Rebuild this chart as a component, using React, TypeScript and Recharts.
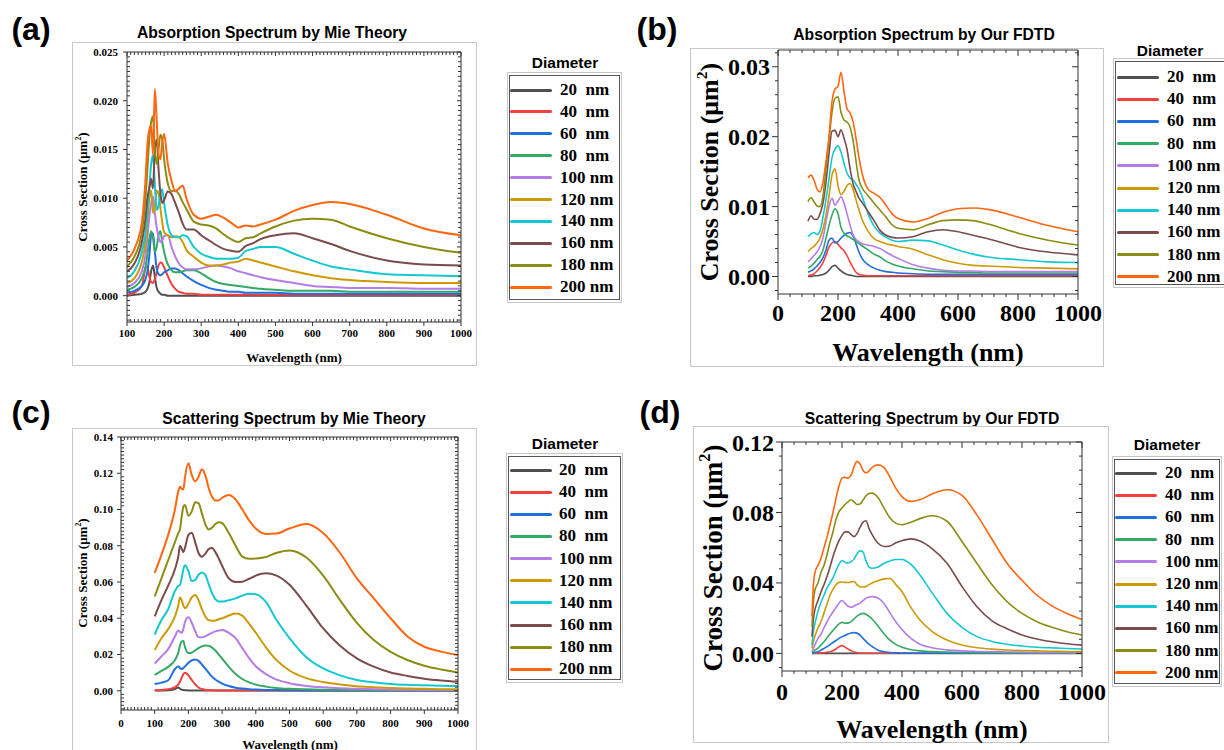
import React from "react";
import { LineChart, Line, XAxis, YAxis } from "recharts";

const diameters = [20, 40, 60, 80, 100, 120, 140, 160, 180, 200];
const colors = ["#505050", "#f04040", "#1f6fe0", "#34a864", "#b47ce6", "#cc9a06", "#14c8d2", "#7b4a4a", "#8c8c14", "#ff6610"];

// (a) absorption, Mie theory
const absMieNm = [100, 120, 140, 150, 155, 160, 165, 170, 175, 180, 185, 190, 195, 200, 210, 220, 230, 240, 250, 260, 280, 300, 320, 340, 360, 380, 400, 420, 440, 460, 500, 550, 600, 650, 700, 800, 900, 1000];
const absMie20 = [0, 0.0001, 0.0002, 0.0004, 0.0007, 0.0013, 0.0025, 0.0031, 0.002, 0.0008, 0.0004, 0.0002, 0.0001, 0.0001, 0, 0, 0, 0, 0, 0, 0, 0, 0, 0, 0, 0, 0, 0, 0, 0, 0, 0, 0, 0, 0, 0, 0, 0];
const absMie40 = [0.0001, 0.0003, 0.001, 0.0028, 0.003, 0.002, 0.0014, 0.0013, 0.0017, 0.0024, 0.0031, 0.0034, 0.0033, 0.0029, 0.002, 0.0012, 0.0007, 0.0004, 0.0003, 0.0002, 0.0002, 0.0001, 0.0001, 0.0001, 0.0001, 0.0001, 0.0001, 0.0001, 0.0001, 0.0001, 0.0001, 0.0001, 0.0001, 0.0001, 0.0001, 0.0001, 0.0001, 0.0001];
const absMie60 = [0.0003, 0.0005, 0.001, 0.0017, 0.0025, 0.004, 0.0062, 0.0064, 0.0045, 0.0028, 0.0022, 0.0021, 0.0022, 0.0024, 0.0026, 0.0028, 0.0028, 0.0026, 0.0023, 0.002, 0.0015, 0.0011, 0.0008, 0.0006, 0.0005, 0.0004, 0.0004, 0.0003, 0.0003, 0.0003, 0.0003, 0.0002, 0.0002, 0.0002, 0.0002, 0.0002, 0.0002, 0.0002];
const absMie80 = [0.0006, 0.0009, 0.0018, 0.003, 0.0042, 0.0058, 0.0066, 0.006, 0.0045, 0.005, 0.0062, 0.0066, 0.0055, 0.0045, 0.0032, 0.0026, 0.0024, 0.0024, 0.0025, 0.0026, 0.0026, 0.0023, 0.0018, 0.0014, 0.0012, 0.0011, 0.001, 0.0009, 0.0008, 0.0007, 0.0006, 0.0005, 0.0005, 0.0005, 0.0004, 0.0004, 0.0004, 0.0004];
const absMie100 = [0.0009, 0.0013, 0.0025, 0.0042, 0.006, 0.008, 0.0095, 0.0102, 0.0085, 0.007, 0.006, 0.0055, 0.0057, 0.0061, 0.0062, 0.005, 0.004, 0.0033, 0.0029, 0.0027, 0.0027, 0.0028, 0.003, 0.0031, 0.003, 0.0028, 0.0025, 0.0023, 0.0021, 0.0019, 0.0016, 0.0013, 0.001, 0.0009, 0.0008, 0.0008, 0.0007, 0.0007];
const absMie120 = [0.0013, 0.0018, 0.0035, 0.0055, 0.0075, 0.01, 0.0108, 0.0085, 0.009, 0.0108, 0.0105, 0.009, 0.0075, 0.0065, 0.0062, 0.006, 0.0061, 0.006, 0.0055, 0.0047, 0.004, 0.0034, 0.0031, 0.0031, 0.0032, 0.0034, 0.0035, 0.0038, 0.0036, 0.0034, 0.003, 0.0025, 0.0021, 0.0018, 0.0016, 0.0014, 0.0013, 0.0013];
const absMie140 = [0.0018, 0.0025, 0.0045, 0.0065, 0.0085, 0.011, 0.0135, 0.0144, 0.0115, 0.0088, 0.0092, 0.0105, 0.0109, 0.0095, 0.0072, 0.0062, 0.006, 0.006, 0.0062, 0.0061, 0.005, 0.0043, 0.004, 0.0038, 0.0038, 0.0038, 0.0039, 0.0046, 0.0048, 0.005, 0.005, 0.0043, 0.0036, 0.003, 0.0027, 0.0022, 0.0021, 0.002];
const absMie160 = [0.0025, 0.0033, 0.0055, 0.008, 0.01, 0.011, 0.012, 0.011, 0.015, 0.016, 0.013, 0.0105, 0.0095, 0.0098, 0.0107, 0.0104, 0.0095, 0.0085, 0.0074, 0.0068, 0.0068, 0.0062, 0.0057, 0.0052, 0.0048, 0.0046, 0.0045, 0.0051, 0.0054, 0.0058, 0.0062, 0.0064, 0.0059, 0.0053, 0.0046, 0.0036, 0.0032, 0.0031];
const absMie180 = [0.003, 0.004, 0.0065, 0.01, 0.013, 0.016, 0.0178, 0.0184, 0.015, 0.0135, 0.015, 0.0165, 0.016, 0.014, 0.0115, 0.0107, 0.0108, 0.0104, 0.0096, 0.0089, 0.0076, 0.0073, 0.0072, 0.0069, 0.0063, 0.0058, 0.0055, 0.0059, 0.006, 0.0064, 0.0071, 0.0077, 0.0079, 0.0078, 0.0071, 0.0059, 0.005, 0.0044];
const absMie200 = [0.0036, 0.0048, 0.0075, 0.012, 0.0155, 0.017, 0.0174, 0.0145, 0.0212, 0.018, 0.0145, 0.014, 0.0158, 0.0166, 0.0135, 0.0118, 0.0107, 0.011, 0.0113, 0.01, 0.0083, 0.0079, 0.0081, 0.0083, 0.008, 0.0075, 0.007, 0.0072, 0.0071, 0.0073, 0.0078, 0.0087, 0.0093, 0.0096, 0.0094, 0.0083, 0.0069, 0.0062];
const absMieYTicks = [0, 0.005, 0.01, 0.015, 0.02, 0.025];
const mieXTicks = [100, 200, 300, 400, 500, 600, 700, 800, 900, 1000];

// (b) absorption, FDTD
const absFdtdNm = [100, 110, 120, 130, 140, 150, 160, 170, 180, 190, 200, 210, 220, 230, 240, 250, 260, 270, 280, 300, 320, 340, 360, 380, 400, 450, 500, 550, 600, 650, 700, 800, 900, 1000];
const absFdtd20 = [0, 0, 0.0001, 0.0001, 0.0002, 0.0003, 0.0005, 0.0009, 0.0014, 0.0016, 0.0012, 0.0008, 0.0005, 0.0003, 0.0002, 0.0001, 0, 0, 0, 0, 0, 0, 0, 0, 0, 0, 0, 0, 0, 0, 0, 0, 0, 0];
const absFdtd40 = [0.0001, 0.0002, 0.0004, 0.0008, 0.0013, 0.002, 0.003, 0.0042, 0.0048, 0.005, 0.0046, 0.0041, 0.0037, 0.003, 0.0021, 0.0013, 0.0006, 0.0003, 0.0002, 0.0001, 0.0001, 0.0001, 0.0001, 0.0001, 0.0001, 0.0001, 0.0001, 0.0001, 0.0001, 0.0001, 0.0001, 0.0001, 0.0001, 0.0001];
const absFdtd60 = [0.0006, 0.0008, 0.0011, 0.0015, 0.002, 0.0027, 0.0038, 0.0052, 0.0055, 0.0048, 0.005, 0.0055, 0.0059, 0.0062, 0.0063, 0.0058, 0.0047, 0.0035, 0.0026, 0.0017, 0.0012, 0.0009, 0.0007, 0.0006, 0.0005, 0.0004, 0.0003, 0.0003, 0.0003, 0.0003, 0.0003, 0.0003, 0.0003, 0.0003];
const absFdtd80 = [0.0012, 0.0015, 0.0019, 0.0024, 0.0029, 0.0038, 0.0055, 0.0073, 0.0088, 0.0097, 0.009, 0.007, 0.0062, 0.0058, 0.0056, 0.0053, 0.005, 0.0047, 0.0044, 0.0038, 0.0032, 0.0028, 0.0022, 0.0018, 0.0015, 0.0011, 0.0008, 0.0007, 0.0006, 0.0006, 0.0005, 0.0005, 0.0005, 0.0005];
const absFdtd100 = [0.0021, 0.0025, 0.003, 0.0035, 0.0043, 0.0055, 0.0078, 0.01, 0.0112, 0.0102, 0.0108, 0.0114, 0.0105, 0.009, 0.0074, 0.006, 0.0053, 0.005, 0.0047, 0.0045, 0.0043, 0.004, 0.0035, 0.003, 0.0026, 0.0017, 0.0012, 0.0009, 0.0008, 0.0008, 0.0007, 0.0007, 0.0007, 0.0007];
const absFdtd120 = [0.0036, 0.004, 0.0043, 0.0048, 0.0055, 0.0068, 0.0088, 0.0115, 0.0145, 0.0154, 0.013, 0.0117, 0.0122, 0.013, 0.0133, 0.0125, 0.011, 0.0095, 0.0082, 0.0065, 0.0054, 0.005, 0.0047, 0.0045, 0.0043, 0.0039, 0.0031, 0.0024, 0.0019, 0.0016, 0.0015, 0.0013, 0.0012, 0.0011];
const absFdtd140 = [0.0057, 0.0061, 0.0063, 0.006, 0.0065, 0.0085, 0.011, 0.014, 0.017, 0.0182, 0.0187, 0.0178, 0.0162, 0.0148, 0.0141, 0.0138, 0.0132, 0.0125, 0.0115, 0.009, 0.0072, 0.0062, 0.0056, 0.0052, 0.005, 0.0052, 0.0051, 0.0045, 0.0038, 0.0032, 0.0028, 0.0024, 0.0021, 0.002];
const absFdtd160 = [0.0079, 0.0087, 0.0082, 0.0082, 0.009, 0.0105, 0.0135, 0.0175, 0.0208, 0.0209, 0.02, 0.021, 0.0198, 0.0182, 0.0155, 0.0133, 0.0122, 0.0112, 0.0106, 0.0093, 0.008, 0.0066, 0.0059, 0.0056, 0.0055, 0.0057, 0.0064, 0.0067, 0.0064, 0.0059, 0.0054, 0.0042, 0.0035, 0.0031];
const absFdtd180 = [0.0107, 0.0113, 0.0107, 0.0101, 0.01, 0.0115, 0.0155, 0.0195, 0.0235, 0.0255, 0.0257, 0.0235, 0.0224, 0.0221, 0.0214, 0.0195, 0.0165, 0.0138, 0.0127, 0.0116, 0.0105, 0.0095, 0.0085, 0.0074, 0.0069, 0.0067, 0.0074, 0.008, 0.0081, 0.008, 0.0075, 0.0062, 0.0052, 0.0045];
const absFdtd200 = [0.0141, 0.0145, 0.0138, 0.0125, 0.0121, 0.0135, 0.0165, 0.02, 0.025, 0.0268, 0.0272, 0.0292, 0.0265, 0.024, 0.0234, 0.0222, 0.0198, 0.017, 0.0148, 0.0125, 0.0119, 0.0113, 0.0102, 0.009, 0.0083, 0.0078, 0.0083, 0.0092, 0.0097, 0.0098, 0.0096, 0.0085, 0.0073, 0.0064];
const absFdtdYTicks = [0, 0.01, 0.02, 0.03];
const fdtdXTicks = [0, 200, 400, 600, 800, 1000];

// (c) scattering, Mie theory
const scaMieNm = [100, 120, 140, 160, 170, 175, 180, 185, 190, 200, 210, 220, 230, 240, 250, 260, 270, 280, 290, 300, 320, 340, 360, 380, 400, 430, 460, 500, 550, 600, 650, 700, 750, 800, 850, 900, 950, 1000];
const scaMie20 = [0.0001, 0.0002, 0.0003, 0.001, 0.0018, 0.0012, 0.0006, 0.0004, 0.0003, 0.0002, 0.0001, 0.0001, 0.0001, 0.0001, 0.0001, 0.0001, 0.0001, 0.0001, 0.0001, 0.0001, 0.0001, 0.0001, 0.0001, 0.0001, 0.0001, 0.0001, 0.0001, 0.0001, 0.0001, 0.0001, 0.0001, 0.0001, 0.0001, 0.0001, 0.0001, 0.0001, 0.0001, 0.0001];
const scaMie40 = [0.0003, 0.0005, 0.0008, 0.002, 0.0035, 0.005, 0.0072, 0.0092, 0.01, 0.0085, 0.006, 0.0035, 0.0018, 0.001, 0.0006, 0.0004, 0.0003, 0.0002, 0.0002, 0.0002, 0.0002, 0.0002, 0.0002, 0.0002, 0.0002, 0.0002, 0.0002, 0.0002, 0.0002, 0.0002, 0.0002, 0.0002, 0.0002, 0.0002, 0.0002, 0.0002, 0.0002, 0.0002];
const scaMie60 = [0.0037, 0.0045, 0.0058, 0.012, 0.0136, 0.0125, 0.012, 0.0125, 0.0135, 0.0155, 0.0168, 0.0173, 0.0165, 0.0145, 0.0122, 0.01, 0.0078, 0.0062, 0.005, 0.004, 0.0026, 0.0017, 0.0012, 0.0009, 0.0007, 0.0005, 0.0004, 0.0003, 0.0002, 0.0002, 0.0002, 0.0002, 0.0002, 0.0002, 0.0002, 0.0002, 0.0002, 0.0002];
const scaMie80 = [0.0087, 0.011, 0.0132, 0.017, 0.021, 0.025, 0.0273, 0.0275, 0.024, 0.0208, 0.021, 0.0222, 0.0235, 0.0245, 0.025, 0.0249, 0.0238, 0.0222, 0.02, 0.0178, 0.0132, 0.0093, 0.0065, 0.0046, 0.0034, 0.0023, 0.0016, 0.0011, 0.0008, 0.0006, 0.0005, 0.0004, 0.0004, 0.0003, 0.0003, 0.0003, 0.0002, 0.0002];
const scaMie100 = [0.015, 0.019, 0.023, 0.03, 0.0332, 0.0325, 0.032, 0.034, 0.038, 0.0405, 0.0375, 0.033, 0.0296, 0.0295, 0.03, 0.031, 0.032, 0.0328, 0.0333, 0.0335, 0.032, 0.029, 0.0235, 0.018, 0.0135, 0.0092, 0.0063, 0.0042, 0.0027, 0.0019, 0.0014, 0.0011, 0.0009, 0.0007, 0.0006, 0.0005, 0.0005, 0.0004];
const scaMie120 = [0.0225, 0.029, 0.034, 0.041, 0.047, 0.0515, 0.05, 0.047, 0.0455, 0.048, 0.0515, 0.0528, 0.05, 0.045, 0.041, 0.039, 0.0387, 0.0388, 0.0395, 0.04, 0.0415, 0.0427, 0.0415, 0.037, 0.032, 0.024, 0.0172, 0.0112, 0.007, 0.0048, 0.0035, 0.0025, 0.002, 0.0016, 0.0013, 0.0011, 0.0009, 0.0008];
const scaMie140 = [0.031, 0.039, 0.045, 0.055, 0.0578, 0.0584, 0.062, 0.067, 0.0693, 0.066, 0.0605, 0.061, 0.064, 0.0652, 0.064, 0.059, 0.054, 0.0505, 0.0493, 0.0492, 0.05, 0.051, 0.0525, 0.0535, 0.0533, 0.049, 0.0395, 0.029, 0.0185, 0.0123, 0.0085, 0.006, 0.0047, 0.0038, 0.0033, 0.003, 0.0028, 0.0026];
const scaMie160 = [0.041, 0.05, 0.058, 0.067, 0.074, 0.08, 0.0785, 0.0765, 0.079, 0.086, 0.0872, 0.082, 0.076, 0.074, 0.0755, 0.0782, 0.0787, 0.0765, 0.073, 0.069, 0.062, 0.06, 0.0602, 0.0618, 0.0635, 0.0648, 0.0637, 0.0585, 0.047, 0.0344, 0.0249, 0.0179, 0.0133, 0.0101, 0.0082, 0.0067, 0.0057, 0.005];
const scaMie180 = [0.052, 0.062, 0.072, 0.082, 0.087, 0.089, 0.096, 0.1015, 0.1025, 0.0965, 0.099, 0.104, 0.1035, 0.098, 0.092, 0.089, 0.09, 0.092, 0.093, 0.0925, 0.087, 0.08, 0.074, 0.0728, 0.073, 0.0738, 0.076, 0.0774, 0.0735, 0.0635, 0.05, 0.0375, 0.028, 0.0215, 0.017, 0.0138, 0.0117, 0.0101];
const scaMie200 = [0.065, 0.075, 0.086, 0.1, 0.11, 0.1125, 0.1115, 0.111, 0.118, 0.1255, 0.119, 0.1155, 0.118, 0.1222, 0.119, 0.112, 0.107, 0.105, 0.105, 0.1065, 0.108, 0.1055, 0.1, 0.094, 0.0895, 0.0865, 0.0867, 0.0895, 0.092, 0.087, 0.076, 0.062, 0.051, 0.04, 0.03, 0.0243, 0.0216, 0.0197];
const scaMieYTicks = [0, 0.02, 0.04, 0.06, 0.08, 0.1, 0.12, 0.14];
const scaMieXTicks = [0, 100, 200, 300, 400, 500, 600, 700, 800, 900, 1000];

// (d) scattering, FDTD
const scaFdtdNm = [100, 105, 110, 120, 130, 140, 150, 160, 170, 180, 190, 200, 210, 220, 230, 240, 250, 260, 270, 280, 290, 300, 320, 340, 360, 380, 400, 430, 460, 500, 550, 600, 650, 700, 750, 800, 850, 900, 950, 1000];
const scaFdtd20 = [0, 0, 0, 0, 0, 0, 0, 0, 0, 0, 0, 0, 0, 0, 0, 0, 0, 0, 0, 0, 0, 0, 0, 0, 0, 0, 0, 0, 0, 0, 0, 0, 0, 0, 0, 0, 0, 0, 0, 0];
const scaFdtd40 = [0, 0.0001, 0.0001, 0.0002, 0.0003, 0.0004, 0.0006, 0.0009, 0.0015, 0.0025, 0.0038, 0.0044, 0.0036, 0.0025, 0.0016, 0.0008, 0.0004, 0.0002, 0.0001, 0.0001, 0.0001, 0.0001, 0.0001, 0.0001, 0.0001, 0.0001, 0.0001, 0.0001, 0.0001, 0.0001, 0.0001, 0.0001, 0.0001, 0.0001, 0.0001, 0.0001, 0.0001, 0.0001, 0.0001, 0.0001];
const scaFdtd60 = [0.0001, 0.0003, 0.0005, 0.001, 0.0018, 0.0028, 0.0038, 0.005, 0.0062, 0.0073, 0.0085, 0.0095, 0.0102, 0.011, 0.0116, 0.0118, 0.0115, 0.0104, 0.0085, 0.0068, 0.0052, 0.004, 0.0018, 0.0009, 0.0005, 0.0003, 0.0002, 0.0001, 0.0001, 0.0001, 0.0001, 0.0001, 0.0001, 0.0001, 0.0001, 0.0001, 0.0001, 0.0001, 0.0001, 0.0001];
const scaFdtd80 = [0.0004, 0.001, 0.0018, 0.003, 0.0048, 0.0066, 0.0088, 0.011, 0.013, 0.015, 0.0168, 0.0176, 0.0172, 0.0172, 0.018, 0.0195, 0.0212, 0.0222, 0.0227, 0.0222, 0.021, 0.0195, 0.0155, 0.0112, 0.0075, 0.005, 0.0035, 0.0021, 0.0014, 0.001, 0.0007, 0.0005, 0.0004, 0.0004, 0.0003, 0.0003, 0.0003, 0.0002, 0.0002, 0.0002];
const scaFdtd100 = [0.0009, 0.003, 0.005, 0.0085, 0.011, 0.0145, 0.018, 0.021, 0.0235, 0.026, 0.0285, 0.03, 0.0285, 0.0268, 0.0262, 0.0268, 0.0278, 0.0284, 0.03, 0.0312, 0.032, 0.0322, 0.0315, 0.0283, 0.023, 0.0178, 0.0135, 0.0085, 0.0052, 0.0032, 0.002, 0.0014, 0.0011, 0.0009, 0.0008, 0.0007, 0.0006, 0.0005, 0.0005, 0.0004];
const scaFdtd120 = [0.0028, 0.007, 0.01, 0.0145, 0.018, 0.023, 0.028, 0.033, 0.0365, 0.039, 0.0403, 0.0405, 0.0403, 0.0402, 0.0405, 0.0408, 0.039, 0.0378, 0.0377, 0.038, 0.039, 0.04, 0.0413, 0.0423, 0.0425, 0.039, 0.035, 0.026, 0.019, 0.0125, 0.0076, 0.0048, 0.0032, 0.0024, 0.0019, 0.0016, 0.0014, 0.0012, 0.0011, 0.001];
const scaFdtd140 = [0.0047, 0.013, 0.017, 0.024, 0.029, 0.033, 0.037, 0.04, 0.043, 0.047, 0.0505, 0.0527, 0.0518, 0.0512, 0.052, 0.0535, 0.0565, 0.0582, 0.0575, 0.0525, 0.049, 0.0483, 0.049, 0.0512, 0.0525, 0.0533, 0.0533, 0.0505, 0.0445, 0.0345, 0.0227, 0.0148, 0.0095, 0.0068, 0.0052, 0.0042, 0.0035, 0.0031, 0.0028, 0.0025];
const scaFdtd160 = [0.0095, 0.02, 0.025, 0.03, 0.035, 0.039, 0.0436, 0.049, 0.055, 0.06, 0.064, 0.067, 0.069, 0.069, 0.0675, 0.0663, 0.068, 0.0715, 0.0745, 0.0753, 0.071, 0.0675, 0.0625, 0.0607, 0.061, 0.0628, 0.064, 0.065, 0.0638, 0.0595, 0.0512, 0.038, 0.0265, 0.0185, 0.014, 0.0105, 0.0082, 0.0066, 0.0055, 0.0047];
const scaFdtd180 = [0.015, 0.03, 0.036, 0.04, 0.046, 0.05, 0.056, 0.063, 0.069, 0.076, 0.0805, 0.0825, 0.0845, 0.086, 0.0872, 0.086, 0.0845, 0.0848, 0.087, 0.0895, 0.0908, 0.091, 0.0885, 0.0825, 0.0768, 0.0738, 0.073, 0.0745, 0.0765, 0.0781, 0.075, 0.0635, 0.051, 0.0389, 0.0294, 0.0227, 0.018, 0.0148, 0.0123, 0.0104];
const scaFdtd200 = [0.021, 0.04, 0.046, 0.05, 0.054, 0.06, 0.066, 0.073, 0.08, 0.088, 0.095, 0.0995, 0.1, 0.0995, 0.101, 0.106, 0.109, 0.1075, 0.104, 0.1025, 0.1035, 0.1055, 0.107, 0.1055, 0.1, 0.0935, 0.089, 0.0863, 0.0872, 0.0905, 0.0929, 0.0897, 0.0785, 0.0648, 0.0512, 0.0415, 0.033, 0.027, 0.0227, 0.0193];
const scaFdtdYTicks = [0, 0.04, 0.08, 0.12];

const serif = "'Liberation Serif', 'Times New Roman', serif";
const sans = "'Liberation Sans', Arial, sans-serif";
const axisColor = "#333";

const buildRows = (nm: number[], series: number[][]) =>
  nm.map((w, i) => {
    const row: Record<string, number> = { nm: w };
    diameters.forEach((d, k) => {
      row["d" + d] = series[k][i];
    });
    return row;
  });

// minor tick positions between the labelled ones
const steps = (from: number, to: number, step: number) => {
  const out: number[] = [];
  for (let v = from; v <= to + step / 10; v += step) out.push(Math.round(v * 1e6) / 1e6);
  return out;
};
const merge = (major: number[], minor: number[]) =>
  Array.from(new Set([...minor, ...major])).sort((a, b) => a - b);
const isIn = (v: number, list: number[]) => list.some((m) => Math.abs(m - v) < 1e-9);

type PanelProps = {
  frame: [number, number, number, number];
  plot: [number, number, number, number]; // left, top, right, bottom in page px
  nm: number[];
  series: number[][];
  xDomain: [number, number];
  xTicks: number[];
  xMinor: number[];
  yDomain: [number, number];
  yTicks: number[];
  yMinor: number[];
  digits: number;
  font: number;
  major: number;
  minor: number;
  minorIn: boolean;
  xGap: number;
  yGap: number;
  lineWidth: number;
};

const Panel = (p: PanelProps) => {
  const rows = buildRows(p.nm, p.series);
  const [fx, fy, fw, fh] = p.frame;
  const left = p.plot[0] - fx;
  const top = p.plot[1] - fy;
  const right = fx + fw - p.plot[2];
  const bottom = fy + fh - p.plot[3];
  const xAll = merge(p.xTicks, p.xMinor);
  const yAll = merge(p.yTicks, p.yMinor);
  const textStyle = { fontFamily: serif, fontWeight: 700, fontSize: p.font, fill: "#000" };

  const bottomTick = (t: any) => {
    const major = isIn(t.payload.value, p.xTicks);
    const len = major ? p.major : p.minor;
    const dir = major || !p.minorIn ? 1 : -1;
    return (
      <g>
        <line x1={t.x} y1={t.y} x2={t.x} y2={t.y + dir * len} stroke={axisColor} />
        {major && (
          <text x={t.x} y={t.y + p.major + p.xGap} dy="0.71em" textAnchor="middle" style={textStyle}>
            {t.payload.value}
          </text>
        )}
      </g>
    );
  };
  const leftTick = (t: any) => {
    const major = isIn(t.payload.value, p.yTicks);
    const len = major ? p.major : p.minor;
    const dir = major || !p.minorIn ? 1 : -1;
    return (
      <g>
        <line x1={t.x} y1={t.y} x2={t.x - dir * len} y2={t.y} stroke={axisColor} />
        {major && (
          <text x={t.x - p.major - p.yGap} y={t.y} dy="0.355em" textAnchor="end" style={textStyle}>
            {Number(t.payload.value).toFixed(p.digits)}
          </text>
        )}
      </g>
    );
  };
  const topTick = (t: any) => {
    const len = isIn(t.payload.value, p.xTicks) ? p.major : p.minor;
    return <line x1={t.x} y1={t.y} x2={t.x} y2={t.y + len} stroke={axisColor} />;
  };
  const rightTick = (t: any) => {
    const len = isIn(t.payload.value, p.yTicks) ? p.major : p.minor;
    return <line x1={t.x} y1={t.y} x2={t.x - len} y2={t.y} stroke={axisColor} />;
  };

  return (
    <div style={{ position: "absolute", left: fx, top: fy, width: fw, height: fh, outline: "1px solid #c8c8c8" }}>
      <LineChart width={fw} height={fh} data={rows} margin={{ top: top - 1, right: right - 1, bottom: 0, left: 0 }}>
        <XAxis type="number" dataKey="nm" domain={p.xDomain} ticks={xAll} interval={0} tick={bottomTick} tickLine={false} tickSize={0} tickMargin={0} height={bottom} stroke={axisColor} allowDataOverflow />
        <XAxis xAxisId="top" orientation="top" type="number" dataKey="nm" domain={p.xDomain} ticks={xAll} interval={0} tick={topTick} tickLine={false} tickSize={0} tickMargin={0} height={1} stroke={axisColor} allowDataOverflow />
        <YAxis type="number" domain={p.yDomain} ticks={yAll} interval={0} tick={leftTick} tickLine={false} tickSize={0} tickMargin={0} width={left} stroke={axisColor} allowDataOverflow />
        <YAxis yAxisId="right" orientation="right" type="number" domain={p.yDomain} ticks={yAll} interval={0} tick={rightTick} tickLine={false} tickSize={0} tickMargin={0} width={1} stroke={axisColor} allowDataOverflow />
        {diameters.map((d, k) => (
          <Line
            key={d}
            type="monotone"
            dataKey={"d" + d}
            stroke={colors[k]}
            strokeWidth={p.lineWidth}
            dot={false}
            activeDot={false}
            isAnimationActive={false}
          />
        ))}
      </LineChart>
    </div>
  );
};

type TextProps = { x: number; y: number; size: number; font: string; rotate?: boolean; children: React.ReactNode };

const Txt = ({ x, y, size, font, rotate, children }: TextProps) => (
  <div
    style={{
      position: "absolute",
      left: x,
      top: y,
      transform: `translate(-50%, -50%)${rotate ? " rotate(-90deg)" : ""}`,
      fontFamily: font,
      fontWeight: 700,
      fontSize: size,
      lineHeight: 1,
      whiteSpace: "nowrap",
      color: "#000",
    }}
  >
    {children}
  </div>
);

const CrossSection = () => (
  <span>
    Cross Section (μm<sup style={{ fontSize: "0.6em", verticalAlign: "0.7em", lineHeight: 0 }}>2</sup>)
  </span>
);

type LegendProps = {
  titleX: number;
  titleY: number;
  box: [number, number, number, number];
  lineX: [number, number];
  textX: number;
  rowY: number;
  rowStep: number;
};

const DiameterLegend = (l: LegendProps) => (
  <>
    <Txt x={l.titleX} y={l.titleY} size={15.5} font={sans}>
      Diameter
    </Txt>
    <div
      style={{
        position: "absolute",
        left: l.box[0],
        top: l.box[1],
        width: l.box[2],
        height: l.box[3],
        border: "1px solid #c8c8c8",
        boxSizing: "border-box",
      }}
    />
    <div
      style={{
        position: "absolute",
        left: l.box[0] + 2,
        top: l.box[1] + 3,
        width: l.box[2] - 4,
        height: l.box[3] - 6,
        border: "1px solid #555",
        boxSizing: "border-box",
      }}
    />
    {diameters.map((d, k) => (
      <React.Fragment key={d}>
        <div
          style={{
            position: "absolute",
            left: l.lineX[0],
            top: l.rowY + k * l.rowStep - 1.5,
            width: l.lineX[1] - l.lineX[0],
            height: 3,
            background: colors[k],
            borderRadius: 1.5,
          }}
        />
        <div
          style={{
            position: "absolute",
            left: l.textX,
            top: l.rowY + k * l.rowStep - 9,
            fontFamily: serif,
            fontWeight: 700,
            fontSize: 17,
            lineHeight: "18px",
            whiteSpace: "pre",
            color: "#000",
          }}
        >
          {d < 100 ? `${d}  nm` : `${d} nm`}
        </div>
      </React.Fragment>
    ))}
  </>
);

const App = () => {
  return (
    <div style={{ position: "absolute", left: 0, top: 0, width: 1224, height: 750, background: "#fff", overflow: "hidden" }}>
      {/* (a) */}
      <Txt x={31} y={29} size={32} font={sans}>(a)</Txt>
      <Txt x={272} y={33} size={15.7} font={sans}>Absorption Spectrum by Mie Theory</Txt>
      <Panel
        frame={[73, 43, 403, 322]}
        plot={[127, 52, 461, 322]}
        nm={absMieNm}
        series={[absMie20, absMie40, absMie60, absMie80, absMie100, absMie120, absMie140, absMie160, absMie180, absMie200]}
        xDomain={[100, 1000]}
        xTicks={mieXTicks}
        xMinor={steps(100, 1000, 10)}
        yDomain={[-0.0027, 0.025]}
        yTicks={absMieYTicks}
        yMinor={steps(-0.0025, 0.025, 0.0005)}
        digits={3}
        font={11}
        major={4}
        minor={3}
        minorIn
        xGap={3}
        yGap={5}
        lineWidth={2}
      />
      <Txt x={82} y={187} size={13} font={serif} rotate><CrossSection /></Txt>
      <Txt x={294} y={357} size={13} font={serif}>Wavelength (nm)</Txt>
      <DiameterLegend titleX={565} titleY={63} box={[507, 72, 115, 231]} lineX={[510, 552]} textX={560} rowY={90} rowStep={21.9} />

      {/* (b) */}
      <Txt x={657} y={29} size={32} font={sans}>(b)</Txt>
      <Txt x={924} y={35} size={15.7} font={sans}>Absorption Spectrum by Our FDTD</Txt>
      <Panel
        frame={[691, 49, 412, 317]}
        plot={[778, 50, 1078, 294]}
        nm={absFdtdNm}
        series={[absFdtd20, absFdtd40, absFdtd60, absFdtd80, absFdtd100, absFdtd120, absFdtd140, absFdtd160, absFdtd180, absFdtd200]}
        xDomain={[0, 1000]}
        xTicks={fdtdXTicks}
        xMinor={steps(0, 1000, 40)}
        yDomain={[-0.0025, 0.0324]}
        yTicks={absFdtdYTicks}
        yMinor={steps(-0.002, 0.032, 0.002)}
        digits={2}
        font={24}
        major={6}
        minor={3}
        minorIn={false}
        xGap={4}
        yGap={2}
        lineWidth={1.6}
      />
      <Txt x={710} y={172} size={26} font={serif} rotate><CrossSection /></Txt>
      <Txt x={928} y={353} size={26} font={serif}>Wavelength (nm)</Txt>
      <DiameterLegend titleX={1170} titleY={51} box={[1113, 58, 114, 230]} lineX={[1117, 1159]} textX={1167} rowY={77} rowStep={22.2} />

      {/* (c) */}
      <Txt x={31} y={412} size={32} font={sans}>(c)</Txt>
      <Txt x={294} y={419} size={15.7} font={sans}>Scattering Spectrum by Mie Theory</Txt>
      <Panel
        frame={[73, 429, 403, 330]}
        plot={[121, 437, 458, 710]}
        nm={scaMieNm}
        series={[scaMie20, scaMie40, scaMie60, scaMie80, scaMie100, scaMie120, scaMie140, scaMie160, scaMie180, scaMie200]}
        xDomain={[0, 1000]}
        xTicks={scaMieXTicks}
        xMinor={steps(0, 1000, 10)}
        yDomain={[-0.0106, 0.14]}
        yTicks={scaMieYTicks}
        yMinor={steps(-0.01, 0.14, 0.002)}
        digits={2}
        font={11}
        major={4}
        minor={3}
        minorIn
        xGap={5}
        yGap={4}
        lineWidth={2}
      />
      <Txt x={82} y={573} size={13} font={serif} rotate><CrossSection /></Txt>
      <Txt x={290} y={744} size={13} font={serif}>Wavelength (nm)</Txt>
      <DiameterLegend titleX={565} titleY={444} box={[506, 453, 117, 230]} lineX={[510, 552]} textX={559} rowY={470} rowStep={22.15} />

      {/* (d) */}
      <Txt x={660} y={412} size={32} font={sans}>(d)</Txt>
      <Txt x={932} y={419} size={15.7} font={sans}>Scattering Spectrum by Our FDTD</Txt>
      <Panel
        frame={[694, 427, 414, 315]}
        plot={[782, 442, 1082, 671]}
        nm={scaFdtdNm}
        series={[scaFdtd20, scaFdtd40, scaFdtd60, scaFdtd80, scaFdtd100, scaFdtd120, scaFdtd140, scaFdtd160, scaFdtd180, scaFdtd200]}
        xDomain={[0, 1000]}
        xTicks={fdtdXTicks}
        xMinor={steps(0, 1000, 40)}
        yDomain={[-0.01, 0.12]}
        yTicks={scaFdtdYTicks}
        yMinor={steps(-0.008, 0.12, 0.008)}
        digits={2}
        font={24}
        major={6}
        minor={3}
        minorIn={false}
        xGap={6}
        yGap={2}
        lineWidth={1.6}
      />
      <Txt x={713} y={558} size={27} font={serif} rotate><CrossSection /></Txt>
      <Txt x={932} y={730} size={26} font={serif}>Wavelength (nm)</Txt>
      <DiameterLegend titleX={1167} titleY={445} box={[1112, 456, 110, 231]} lineX={[1115, 1157]} textX={1165} rowY={473} rowStep={22.2} />
    </div>
  );
};

export default App;
